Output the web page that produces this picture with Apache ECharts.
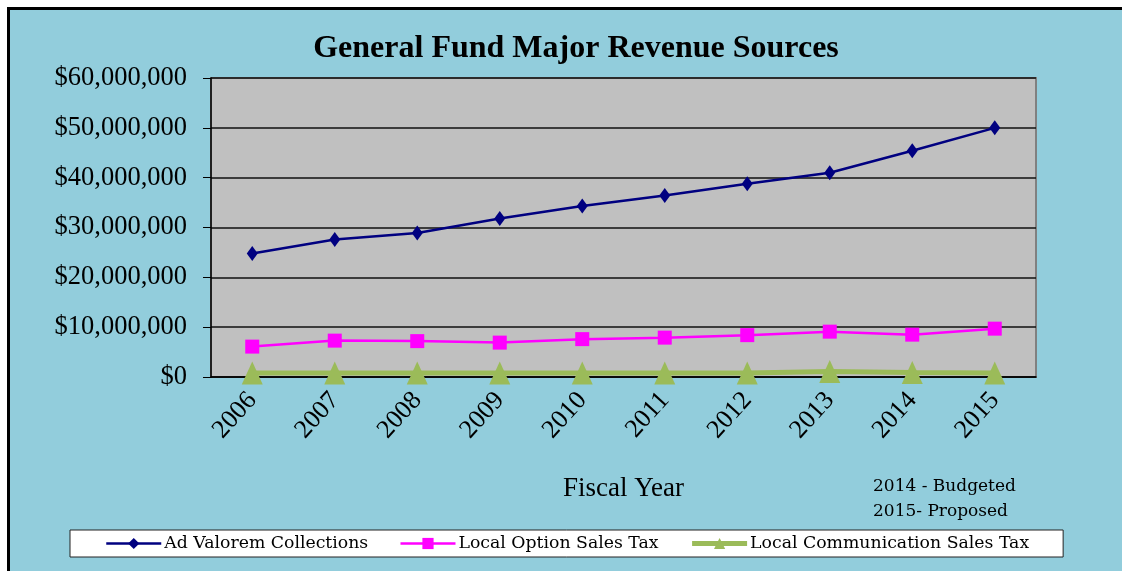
<!DOCTYPE html>
<html>
<head>
<meta charset="utf-8">
<script src="https://cdn.jsdelivr.net/npm/echarts@6/dist/echarts.min.js"></script>
<style>
    html, body { margin: 0; padding: 0; background: #ffffff; overflow: hidden; }
    #frame {
        position: absolute; left: 7px; top: 7px; width: 1300px; height: 700px;
        background: #92CDDC; border-top: 3px solid #000; border-left: 3px solid #000;
    }
    #chart { position: absolute; left: 0; top: 0; width: 1122px; height: 571px; }
</style>
</head>
<body>
<div id="frame"></div>
<div id="chart"></div>
<script>
const years = ['2006', '2007', '2008', '2009', '2010', '2011', '2012', '2013', '2014', '2015'];
const adValorem = [24800000, 27600000, 28900000, 31800000, 34300000, 36400000, 38800000, 41000000, 45400000, 50000000];
const localOption = [6100000, 7300000, 7200000, 6900000, 7600000, 7900000, 8400000, 9100000, 8500000, 9700000];
const localComm = [800000, 800000, 800000, 800000, 800000, 800000, 800000, 1100000, 900000, 800000];
const yTicks = [0, 10000000, 20000000, 30000000, 40000000, 50000000, 60000000];

document.addEventListener("DOMContentLoaded", function() {
    const chart = echarts.init(document.getElementById('chart'));
    const serif = 'Liberation Serif';
    const option = {
        animation: false,
        backgroundColor: 'transparent',
        title: {
            text: 'General Fund Major Revenue Sources',
            left: 571,
            textAlign: 'center',
            top: 28,
            textStyle: { fontFamily: serif, fontSize: 32, fontWeight: 'bold', color: '#000' }
        },
        grid: {
            left: 211,
            right: 86,
            top: 78,
            bottom: 194,
            show: true,
            backgroundColor: '#C0C0C0',
            borderColor: '#808080',
            borderWidth: 2
        },
        legend: {
            left: 70,
            top: 530,
            backgroundColor: '#fff',
            borderColor: '#222',
            borderWidth: 1,
            borderRadius: 0,
            padding: [5, 34, 5, 35],
            itemGap: 31,
            itemWidth: 55,
            itemHeight: 14,
            textStyle: { fontFamily: 'DejaVu Serif', fontSize: 17.3, color: '#000', padding: [0, 0, 0, -2] },
            data: [
                { name: 'Ad Valorem Collections', lineStyle: { width: 2.5 } },
                { name: 'Local Option Sales Tax', lineStyle: { width: 2.5 } },
                { name: 'Local Communication Sales Tax', lineStyle: { width: 5 } }
            ]
        },
        xAxis: {
            type: 'category',
            data: years,
            name: 'Fiscal Year',
            nameLocation: 'middle',
            nameGap: 98,
            nameTextStyle: { fontFamily: serif, fontSize: 27, color: '#000' },
            axisLine: { lineStyle: { color: '#000', width: 1.5 } },
            axisTick: { length: 8, lineStyle: { color: '#000' } },
            axisLabel: { rotate: 48, margin: 19, fontFamily: serif, fontSize: 26, color: '#000' }
        },
        yAxis: {
            type: 'value',
            min: yTicks[0],
            max: yTicks[yTicks.length - 1],
            interval: yTicks[1] - yTicks[0],
            axisLine: { show: true, lineStyle: { color: '#000', width: 1.5 } },
            axisTick: { show: true, length: 8, lineStyle: { color: '#000' } },
            axisLabel: {
                margin: 24,
                fontFamily: serif,
                fontSize: 26.5,
                color: '#000',
                formatter: function(v) { return '$' + v.toLocaleString('en-US'); }
            },
            splitLine: { lineStyle: { color: '#111', width: 1.5 } }
        },
        graphic: [{
            type: 'text',
            left: 873,
            top: 474,
            style: {
                text: '2014 - Budgeted\n2015- Proposed',
                font: '17px "DejaVu Serif"',
                lineHeight: 25,
                fill: '#000'
            }
        }],
        series: [{
            name: 'Ad Valorem Collections',
            type: 'line',
            data: adValorem,
            symbol: 'diamond',
            symbolSize: [11, 15],
            z: 4,
            lineStyle: { color: '#000080', width: 2.5 },
            itemStyle: { color: '#000080' }
        }, {
            name: 'Local Option Sales Tax',
            type: 'line',
            data: localOption,
            symbol: 'rect',
            symbolSize: 14,
            z: 3,
            lineStyle: { color: '#FF00FF', width: 2.5 },
            itemStyle: { color: '#FF00FF' }
        }, {
            name: 'Local Communication Sales Tax',
            type: 'line',
            data: localComm,
            symbol: 'triangle',
            symbolSize: [21, 23],
            z: 2,
            lineStyle: { color: '#9BBB59', width: 5 },
            itemStyle: { color: '#9BBB59' }
        }]
    };
    chart.setOption(option);
});
</script>
</body>
</html>
